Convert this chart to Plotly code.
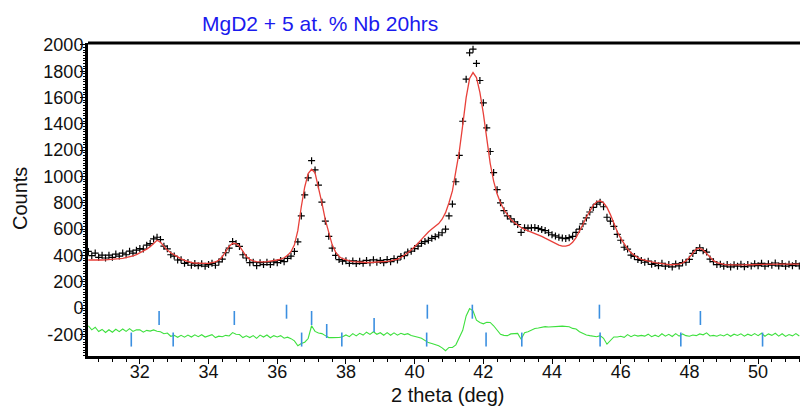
import numpy as np
import plotly.graph_objects as go

# ---------------- data ----------------
two_theta_start = 30.5
two_theta_step = 0.1

calc_counts = [
    365, 364, 364, 364, 365,
    366, 367, 369, 372, 375, 378, 383, 389, 396, 406,
    418, 432, 448, 466, 492, 515, 500, 466, 440, 420,
    403, 388, 374, 362, 352, 346, 342, 340, 339, 339,
    340, 343, 350, 364, 390, 428, 468, 492, 490, 470,
    430, 392, 370, 358, 353, 351, 351, 353, 356, 360,
    365, 372, 382, 400, 428, 480, 590, 770, 920, 1022,
    1055, 1028, 925, 800, 670, 570, 480, 425, 392, 375,
    365, 358, 353, 350, 348, 346, 346, 346, 347, 348,
    350, 352, 355, 359, 364, 372, 384, 400, 420, 441,
    465, 492, 522, 552, 578, 600, 620, 642, 675, 725,
    800, 890, 1040, 1190, 1390, 1600, 1745, 1790, 1752, 1640,
    1480, 1278, 1100, 965, 868, 800, 748, 710, 675, 650,
    628, 612, 598, 588, 578, 568, 557, 545, 531, 517,
    502, 490, 478, 470, 470, 478, 500, 535, 580, 635,
    690, 740, 780, 808, 815, 800, 765, 710, 640, 580,
    530, 485, 450, 420, 398, 382, 370, 362, 355, 350,
    345, 340, 336, 332, 330, 329, 330, 334, 342, 358,
    385, 420, 448, 455, 440, 414, 385, 360, 345, 336,
    331, 328, 327, 327, 327, 328, 328, 329, 330, 331,
    332, 332, 333, 333, 333, 334, 334, 334, 334, 334,
    334, 333, 333,
]

obs_counts = [
    430, 398, 418, 385, 402,
    380, 402, 385, 410, 395, 418, 405, 432, 418, 440,
    452, 448, 478, 490, 525, 538, 520, 470, 450, 405,
    395, 365, 366, 340, 346, 325, 338, 322, 336, 318,
    330, 340, 325, 350, 372, 420, 455, 505, 490, 468,
    405, 380, 345, 348, 322, 345, 330, 348, 330, 350,
    345, 362, 352, 378, 395, 430, 503, 700, 860, 990,
    1120, 1050, 935, 805, 660, 545, 455, 400, 368, 356,
    360, 340, 358, 338, 355, 340, 362, 345, 366, 348,
    362, 345, 368, 352, 375, 365, 392, 398, 425, 432,
    452, 470, 492, 505, 515, 530, 542, 555, 572, 600,
    700, 790, 960, 1160, 1420, 1740, 1940, 1968, 1860, 1730,
    1560, 1370, 1190, 1030, 900, 800, 740, 700, 678, 655,
    635, 575, 610, 608, 610, 612, 605, 596, 589, 572,
    557, 548, 538, 532, 528, 535, 545, 575, 600, 640,
    685, 730, 765, 790, 805, 770, 690, 660, 620, 560,
    515, 462, 448, 402, 392, 368, 362, 348, 356, 332,
    338, 322, 340, 318, 330, 312, 335, 320, 345, 348,
    370, 415, 438, 458, 436, 425, 372, 352, 330, 332,
    318, 330, 312, 328, 318, 332, 314, 330, 320, 336,
    322, 340, 318, 336, 325, 342, 320, 338, 318, 332,
    322, 338, 320,
]

diff_offset = -200

# Bragg reflection positions (2 theta, deg), one list per phase row
bragg_row_a = [36.27, 40.37, 41.68, 45.38]
bragg_row_b = [32.56, 34.75, 37.00, 48.32]
bragg_row_c = [38.82]
bragg_row_d = [37.44]
bragg_row_e = [31.75, 32.97, 36.71, 37.88, 40.35, 42.08, 43.12, 45.40, 47.75, 50.13]

y_tick_vals = [-200, 0, 200, 400, 600, 800, 1000, 1200, 1400, 1600, 1800, 2000]
y_tick_text = ["-200", "0", "200", "400", "600", "800", "1000", "1200", "1400", "1600", "1800", "2000"]
x_tick_vals = [32, 34, 36, 38, 40, 42, 44, 46, 48, 50]

title_text = "MgD2 + 5 at. % Nb 20hrs"

# ---------------- build ----------------
n = len(calc_counts)
two_theta = np.round(two_theta_start + two_theta_step * np.arange(n), 2)
obs = np.array(obs_counts, dtype=float)
calc = np.array(calc_counts, dtype=float)
diff = obs - calc + diff_offset

FONT = "Liberation Sans, Arial, Helvetica, sans-serif"
BLUE_TICK = "#3b8fe0"

# plot area in pixels
L, T, W, H = 88, 43, 712, 313

fig = go.Figure()

fig.add_trace(go.Scatter(
    x=two_theta, y=obs, mode="markers",
    marker=dict(symbol="cross-thin", size=5, color="black",
                line=dict(color="black", width=1.2)),
    name="obs", showlegend=False, hoverinfo="skip"))

fig.add_trace(go.Scatter(
    x=two_theta, y=calc, mode="lines",
    line=dict(color="#e8403a", width=1.3),
    name="calc", showlegend=False, hoverinfo="skip"))

fig.add_trace(go.Scatter(
    x=two_theta, y=diff, mode="lines",
    line=dict(color="#3ee03e", width=1.1),
    name="diff", showlegend=False, hoverinfo="skip"))

row_levels = [-28, -76, -129, -175, -240]
for rows, lvl in zip([bragg_row_a, bragg_row_b, bragg_row_c, bragg_row_d, bragg_row_e], row_levels):
    fig.add_trace(go.Scatter(
        x=rows, y=[lvl] * len(rows), mode="markers",
        marker=dict(symbol="line-ns", size=10, color=BLUE_TICK,
                    line=dict(color=BLUE_TICK, width=1.6)),
        showlegend=False, hoverinfo="skip"))

fig.update_layout(
    width=800, height=407,
    margin=dict(l=L, r=800 - L - W, t=T, b=407 - T - H, autoexpand=False),
    paper_bgcolor="white", plot_bgcolor="white",
    font=dict(family=FONT, color="#111111", size=18),
    showlegend=False,
)

fig.update_xaxes(
    range=[30.49, 51.22], showgrid=False, zeroline=False, automargin=False,
    showline=True, linecolor="black", linewidth=3,
    tickmode="array", tickvals=x_tick_vals,
    ticks="outside", ticklen=5, tickwidth=1.2, tickcolor="black",
    tickfont=dict(size=18, family=FONT), ticklabelstandoff=-8,
    minor=dict(dtick=0.4, tick0=0, ticks="outside", ticklen=3, tickwidth=1, tickcolor="black"),
)
fig.update_yaxes(
    range=[-365, 2015], showgrid=False, zeroline=False, automargin=False,
    showline=True, linecolor="black", linewidth=3,
    tickmode="array", tickvals=y_tick_vals, ticktext=y_tick_text,
    ticks="outside", ticklen=5, tickwidth=1.2, tickcolor="black",
    tickfont=dict(size=18, family=FONT), ticklabelstandoff=-7,
    minor=dict(dtick=20, tick0=0, ticks="outside", ticklen=2, tickwidth=1, tickcolor="black"),
)

# top frame line
fig.add_shape(type="line", xref="paper", yref="paper", x0=0, x1=1, y0=1, y1=1,
              line=dict(color="black", width=3))

# axis titles and chart title as annotations at reference pixel positions
fig.add_annotation(text="2 theta (deg)", xref="paper", yref="paper",
                   x=(447 - L) / W, y=-(395 - (T + H)) / H,
                   xanchor="center", yanchor="middle", showarrow=False,
                   font=dict(size=20, family=FONT, color="#111111"))
fig.add_annotation(text="Counts", xref="paper", yref="paper",
                   x=-(L - 20) / W, y=1 - (199 - T) / H, textangle=-90,
                   xanchor="center", yanchor="middle", showarrow=False,
                   font=dict(size=20, family=FONT, color="#111111"))
fig.add_annotation(text=title_text, xref="paper", yref="paper",
                   x=(319.5 - L) / W, y=1 + (T - 24) / H,
                   xanchor="center", yanchor="middle", showarrow=False,
                   font=dict(size=21, color="#1a1aee", family=FONT))

fig.write_html("out.html", config={"displayModeBar": False})

# remove the browser's default page margin so the figure sits at (0, 0)
with open("out.html", "r", encoding="utf-8") as f:
    html = f.read()
html = html.replace("<head>", "<head><style>html,body{margin:0;padding:0;overflow:hidden;}</style>", 1)
with open("out.html", "w", encoding="utf-8") as f:
    f.write(html)
